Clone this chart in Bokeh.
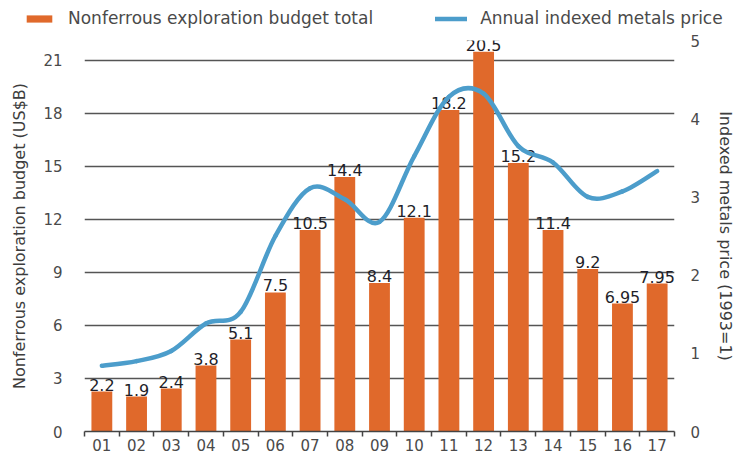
from bokeh.plotting import figure
from bokeh.models import Range1d, LinearAxis, FixedTicker, Legend, LegendItem, ColumnDataSource
from bokeh.embed import file_html
from bokeh.resources import INLINE
from bokeh.core.properties import value

years = ["01", "02", "03", "04", "05", "06", "07", "08", "09", "10",
         "11", "12", "13", "14", "15", "16", "17"]
budget = [2.26, 1.98, 2.43, 3.73, 5.2, 7.87, 11.4, 14.4, 8.4, 12.1,
          18.2, 21.5, 15.2, 11.4, 9.2, 7.24, 8.37]
budget_labels = ["2.2", "1.9", "2.4", "3.8", "5.1", "7.5", "10.5", "14.4", "8.4", "12.1",
                 "18.2", "20.5", "15.2", "11.4", "9.2", "6.95", "7.95"]
metals_price = [0.84, 0.90, 1.03, 1.38, 1.53, 2.5, 3.11, 2.97, 2.68, 3.52,
                4.28, 4.32, 3.65, 3.44, 3.0, 3.07, 3.33]
left_ticks = [0, 3, 6, 9, 12, 15, 18, 21]
right_ticks = [0, 1, 2, 3, 4, 5]
series_names = ["Nonferrous exploration budget total", "Annual indexed metals price"]

BAR = "#E0692B"
LINE = "#4C9DCB"
TXT = "#4a4a4a"
FONT = "DejaVu Sans"

W = 738
LEG_H = 30
H = 454 - LEG_H
TOP, BOTTOM, LEFT, RIGHT = 10, 23, 84, 64

xs = list(range(1, len(years) + 1))
n = len(xs)

p = figure(width=W, height=H, output_backend="svg", toolbar_location=None,
           x_range=Range1d(0.5, n + 0.5), y_range=Range1d(0, 22.13),
           min_border_left=LEFT, min_border_right=RIGHT, min_border_top=TOP,
           min_border_bottom=BOTTOM)
p.outline_line_color = None
p.background_fill_color = "white"
p.border_fill_color = "white"
p.extra_y_ranges = {"right": Range1d(0, 5)}

# bars
src = ColumnDataSource(dict(x=xs, top=budget, lab=budget_labels))
bars = p.vbar(x="x", top="top", width=0.6, source=src, fill_color=BAR, line_color=None)
p.text(x="x", y="top", text="lab", source=src, text_align="center", text_baseline="bottom",
       y_offset=-1, text_font=value(FONT), text_font_size="16px", text_color="#1f1f2a")

# smooth line (Catmull-Rom through yearly values, drawn as Bezier segments)
x0, y0, x1, y1, cx0, cy0, cx1, cy1 = [], [], [], [], [], [], [], []
for i in range(n - 1):
    xm, ym = xs[max(i - 1, 0)], metals_price[max(i - 1, 0)]
    xa, ya = xs[i], metals_price[i]
    xb, yb = xs[i + 1], metals_price[i + 1]
    xp, yp = xs[min(i + 2, n - 1)], metals_price[min(i + 2, n - 1)]
    x0.append(xa); y0.append(ya); x1.append(xb); y1.append(yb)
    cx0.append(xa + (xb - xm) / 6.0); cy0.append(ya + (yb - ym) / 6.0)
    cx1.append(xb - (xp - xa) / 6.0); cy1.append(yb - (yp - ya) / 6.0)
curve = p.bezier(x0=x0, y0=y0, x1=x1, y1=y1, cx0=cx0, cy0=cy0, cx1=cx1, cy1=cy1,
                 y_range_name="right", line_color=LINE, line_width=4.5, line_cap="round")

# axes
p.yaxis.ticker = FixedTicker(ticks=left_ticks)
p.yaxis.axis_label = "Nonferrous exploration budget (US$B)"
p.yaxis.axis_line_color = None
p.yaxis.major_tick_line_color = None
p.yaxis.minor_tick_line_color = None
p.yaxis.major_label_standoff = 16
p.yaxis.axis_label_standoff = 11

p.xaxis.ticker = FixedTicker(ticks=xs, minor_ticks=[x - 0.5 for x in xs] + [n + 0.5])
p.xaxis.major_label_overrides = {x: y for x, y in zip(xs, years)}
p.xaxis.major_tick_line_color = None
p.xaxis.major_tick_out = 0
p.xaxis.minor_tick_in = 0
p.xaxis.minor_tick_out = 5
p.xaxis.minor_tick_line_color = "#444444"
p.xaxis.minor_tick_line_width = 1.5
p.xaxis.axis_line_color = "#444444"
p.xaxis.axis_line_width = 1.5
p.xaxis.major_label_standoff = 2

right = LinearAxis(y_range_name="right", ticker=FixedTicker(ticks=right_ticks),
                   axis_label="Indexed metals price (1993=1)")
right.axis_line_color = None
right.major_tick_line_color = None
right.minor_tick_line_color = None
right.major_label_standoff = 10
right.axis_label_standoff = 13
p.add_layout(right, "right")

for ax in [p.yaxis[0], p.xaxis[0], right]:
    ax.major_label_text_font = FONT
    ax.major_label_text_font_size = "15px"
    ax.major_label_text_color = TXT
    ax.axis_label_text_font = FONT
    ax.axis_label_text_font_size = "16px"
    ax.axis_label_text_font_style = "normal"
    ax.axis_label_text_color = "#3d3d3d"

p.xgrid.grid_line_color = None
p.ygrid.ticker = FixedTicker(ticks=left_ticks)
p.ygrid.grid_line_color = "#555555"
p.ygrid.grid_line_width = 1.3

# legend strip above the chart: its own root figure; the key renderers share the
# chart's data but its ranges keep the marks themselves out of view
lg = figure(width=W, height=LEG_H, output_backend="svg", toolbar_location=None,
            x_axis_type=None, y_axis_type=None,
            x_range=Range1d(100, 101), y_range=Range1d(100, 101),
            min_border_left=0, min_border_right=0, min_border_top=0, min_border_bottom=0)
lg.outline_line_color = None
lg.grid.grid_line_color = None
key_bar = lg.vbar(x="x", top="top", width=0.6, source=src, fill_color=BAR, line_color=None)
key_line = lg.line(x=xs, y=metals_price, line_color=LINE, line_width=4.5, line_cap="round")
legend = Legend(items=[LegendItem(label=series_names[0], renderers=[key_bar]),
                       LegendItem(label=series_names[1], renderers=[key_line])],
                location=(23, 2), orientation="horizontal",
                glyph_width=32, glyph_height=9, label_standoff=13, spacing=62,
                label_text_font=FONT, label_text_font_size="17px", label_text_color=TXT,
                padding=0, margin=0, border_line_color=None, background_fill_alpha=0,
                label_height=16)
lg.add_layout(legend, "center")

open("out.html", "w").write(file_html([lg, p], INLINE))
